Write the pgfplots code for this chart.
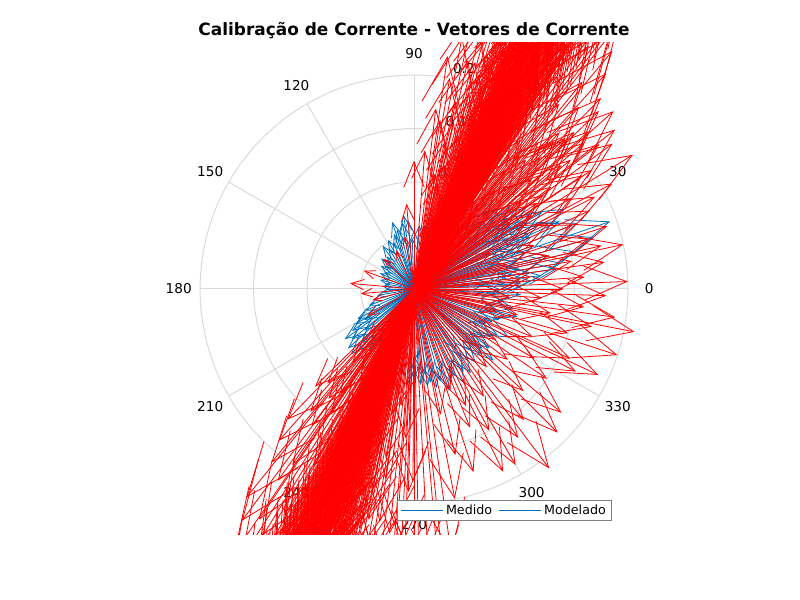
\documentclass[border=0pt]{standalone}
\usepackage{fontspec}
\setmainfont{DejaVu Sans}
\usepackage{pgfplots}
\pgfplotsset{compat=1.18}
\usepackage{pgfplotstable}
\usetikzlibrary{arrows.meta}
\definecolor{mred}{RGB}{255,0,0}
\definecolor{mblue}{RGB}{0,114,189}
\definecolor{mgrid}{RGB}{218,218,218}

% Medido (blue): angle in degrees, magnitude
\pgfplotstableread[row sep=\\]{
t r\\
0 0.08\\ 3 0.10\\ 5 0.07\\ 8 0.11\\ 10 0.09\\ 12 0.12\\ 15 0.10\\ 17 0.08\\ 20 0.12\\ 22 0.10\\
25 0.11\\ 27 0.13\\ 30 0.09\\ 32 0.12\\ 35 0.10\\ 37 0.11\\ 40 0.08\\ 42 0.10\\ 45 0.09\\ 48 0.11\\
50 0.08\\ 53 0.10\\ 55 0.07\\ 58 0.09\\ 60 0.08\\ 63 0.07\\ 66 0.09\\ 70 0.06\\ 75 0.07\\ 80 0.06\\
6 0.12\\ 14 0.13\\ 24 0.12\\ 33 0.13\\ 2 0.09\\ 18 0.11\\ 28 0.10\\ 38 0.12\\ 44 0.11\\ 52 0.09\\
4 0.11\\ 11 0.10\\ 21 0.09\\ 26 0.12\\ 34 0.11\\ 41 0.12\\ 47 0.10\\ 56 0.10\\ 36 0.13\\ 30 0.12\\
19 0.194\\ 16 0.175\\ 22 0.165\\ 13 0.155\\ 25 0.15\\ 10 0.14\\ 28 0.16\\ 31 0.14\\ 8 0.135\\
85 0.06\\ 90 0.055\\ 95 0.065\\ 100 0.063\\ 103 0.05\\ 106 0.058\\ 110 0.055\\ 114 0.048\\ 118 0.052\\ 122 0.045\\
126 0.05\\ 130 0.04\\ 133 0.037\\ 137 0.042\\ 141 0.035\\ 145 0.038\\ 150 0.032\\ 155 0.035\\ 160 0.03\\ 165 0.033\\
170 0.028\\ 175 0.03\\ 180 0.027\\ 98 0.07\\ 108 0.066\\ 92 0.048\\
185 0.03\\ 190 0.035\\ 195 0.04\\ 200 0.045\\ 204 0.05\\ 208 0.06\\ 211 0.064\\ 214 0.07\\ 216 0.08\\ 219 0.075\\
222 0.083\\ 225 0.07\\ 228 0.078\\ 231 0.065\\ 234 0.072\\ 237 0.06\\ 240 0.068\\ 212 0.055\\ 220 0.06\\ 226 0.085\\
243 0.07\\ 247 0.075\\ 250 0.08\\ 254 0.07\\ 258 0.085\\ 262 0.08\\ 266 0.09\\ 270 0.085\\ 274 0.09\\ 278 0.092\\
280 0.089\\ 283 0.095\\ 286 0.09\\ 289 0.1\\ 292 0.095\\ 295 0.09\\ 298 0.1\\ 256 0.065\\ 268 0.075\\ 276 0.08\\
301 0.09\\ 304 0.095\\ 307 0.085\\ 310 0.09\\ 313 0.08\\ 316 0.088\\ 319 0.085\\ 322 0.09\\ 325 0.08\\ 328 0.085\\
331 0.09\\ 334 0.075\\ 337 0.08\\ 340 0.085\\ 343 0.09\\ 346 0.08\\ 349 0.095\\ 352 0.085\\ 355 0.09\\ 358 0.08\\
305 0.07\\ 318 0.1\\ 333 0.1\\ 345 0.1\\ 357 0.1\\
}\bluetab

% Modelado (red), north-east band: angle in degrees, magnitude
\pgfplotstableread[row sep=\\]{
t r\\
63.3 0.26\\ 65.8 0.31\\ 60.1 0.22\\ 67.6 0.28\\ 63.9 0.34\\ 58.4 0.25\\ 70.2 0.29\\ 61.7 0.19\\ 64.5 0.37\\ 66.0 0.23\\
61.8 0.30\\ 64.1 0.27\\ 68.6 0.33\\ 57.9 0.29\\ 66.4 0.21\\ 62.2 0.35\\ 69.7 0.24\\ 59.5 0.32\\ 65.0 0.28\\ 62.3 0.36\\
67.1 0.20\\ 64.6 0.30\\ 60.9 0.27\\ 66.4 0.25\\ 71.2 0.31\\ 63.7 0.23\\ 56.5 0.33\\ 67.0 0.36\\ 61.3 0.24\\ 64.8 0.32\\
68.6 0.27\\ 62.9 0.29\\ 64.4 0.38\\ 58.2 0.30\\ 69.7 0.33\\ 65.5 0.28\\ 63.0 0.32\\ 60.3 0.35\\ 66.8 0.30\\ 72.1 0.26\\
63.9 0.25\\ 61.4 0.34\\ 65.2 0.22\\ 67.7 0.34\\ 59.5 0.26\\ 62.6 0.28\\ 66.1 0.37\\ 61.9 0.31\\ 70.3 0.35\\ 57.6 0.34\\
65.4 0.35\\ 60.7 0.29\\ 66.6 0.27\\ 64.3 0.32\\ 62.8 0.26\\ 68.9 0.30\\ 65.8 0.33\\ 58.9 0.36\\ 63.5 0.37\\ 69.6 0.29\\
61.1 0.32\\ 64.7 0.30\\ 67.9 0.25\\ 63.6 0.29\\ 59.0 0.35\\ 66.9 0.26\\ 62.5 0.34\\ 71.8 0.27\\ 63.1 0.25\\ 66.3 0.33\\
60.5 0.31\\ 64.9 0.36\\ 65.2 0.30\\ 61.5 0.27\\ 68.2 0.36\\ 64.0 0.27\\ 62.7 0.33\\ 57.3 0.31\\ 67.4 0.32\\ 62.0 0.28\\
73.6 0.30\\ 55.2 0.30\\ 74.4 0.27\\ 56.8 0.36\\ 72.9 0.34\\ 58.6 0.33\\ 70.7 0.31\\ 59.9 0.33\\ 69.3 0.37\\ 59.1 0.29\\
64.2 0.23\\ 66.7 0.24\\ 62.4 0.22\\ 65.6 0.20\\ 63.8 0.20\\ 67.3 0.21\\ 61.6 0.20\\ 68.0 0.22\\ 60.6 0.21\\ 69.1 0.19\\
64.4 0.17\\ 65.1 0.15\\ 63.2 0.18\\ 66.5 0.16\\ 62.1 0.15\\ 67.8 0.18\\ 61.0 0.17\\ 68.4 0.15\\ 64.7 0.13\\ 65.3 0.12\\
63.4 0.10\\ 65.9 0.11\\ 64.0 0.08\\ 62.6 0.12\\ 66.2 0.13\\ 65.7 0.09\\ 60.4 0.16\\ 70.0 0.17\\ 58.8 0.18\\ 71.4 0.20\\
65.7 0.34\\ 63.5 0.31\\ 64.8 0.27\\ 66.2 0.35\\ 61.9 0.33\\ 67.5 0.28\\ 60.8 0.36\\ 68.3 0.30\\ 64.1 0.33\\ 65.9 0.24\\
62.7 0.36\\ 66.0 0.29\\ 59.7 0.37\\ 68.8 0.33\\ 57.7 0.27\\ 71.5 0.33\\ 62.5 0.30\\ 67.2 0.34\\ 65.6 0.36\\ 60.2 0.33\\
75.5 0.25\\ 54.3 0.28\\ 76.7 0.22\\ 53.6 0.33\\ 77.8 0.27\\ 52.4 0.30\\ 73.1 0.21\\ 56.9 0.22\\ 72.6 0.23\\ 56.1 0.24\\
64.6 0.31\\ 63.1 0.33\\ 65.4 0.31\\ 61.2 0.35\\ 66.8 0.32\\ 63.6 0.28\\ 68.5 0.37\\ 60.0 0.34\\ 70.9 0.32\\ 59.3 0.37\\
62.9 0.24\\ 64.3 0.26\\ 66.1 0.22\\ 63.0 0.29\\ 65.2 0.25\\ 61.4 0.23\\ 67.6 0.27\\ 60.6 0.26\\ 69.2 0.24\\ 58.1 0.27\\
64.9 0.21\\ 63.7 0.22\\ 65.5 0.27\\ 62.2 0.25\\ 66.9 0.29\\ 61.7 0.29\\ 68.1 0.26\\ 59.4 0.24\\ 70.5 0.22\\ 57.4 0.26\\
63.2 0.14\\ 64.5 0.16\\ 62.8 0.13\\ 66.4 0.14\\ 61.3 0.12\\ 67.1 0.16\\ 65.0 0.11\\ 63.9 0.12\\ 60.9 0.14\\ 68.7 0.13\\
65.3 0.19\\ 62.0 0.18\\ 66.6 0.17\\ 63.4 0.21\\ 64.8 0.19\\ 61.8 0.21\\ 67.9 0.19\\ 60.3 0.19\\ 69.4 0.16\\ 58.5 0.20\\
48.3 0.27\\ 45.6 0.25\\ 50.2 0.29\\ 41.7 0.25\\ 51.9 0.22\\ 80.4 0.20\\ 83.1 0.17\\ 79.2 0.24\\ 85.5 0.13\\ 78.3 0.14\\
47.1 0.20\\ 53.0 0.31\\ 44.4 0.21\\ 81.8 0.22\\
52.5 0.14\\ 54.8 0.17\\ 50.6 0.12\\ 56.3 0.19\\ 49.1 0.16\\ 73.7 0.15\\ 75.9 0.12\\ 77.4 0.18\\ 74.2 0.19\\ 79.6 0.11\\
55.7 0.10\\ 72.8 0.09\\ 51.3 0.20\\ 76.5 0.16\\ 48.2 0.13\\ 71.6 0.14\\ 57.2 0.13\\ 78.1 0.10\\ 53.4 0.09\\ 74.9 0.22\\
46.0 0.17\\ 43.2 0.15\\ 39.5 0.19\\ 36.7 0.16\\ 47.8 0.23\\ 42.1 0.22\\ 38.4 0.24\\ 50.9 0.25\\ 45.0 0.20\\ 81.2 0.16\\
31.5 0.24\\ 33.8 0.20\\ 36.2 0.23\\ 40.7 0.21\\ 43.9 0.24\\ 46.5 0.19\\ 49.7 0.18\\ 34.9 0.14\\ 39.1 0.13\\ 52.0 0.16\\
}\redNE

% Modelado (red), south-west band
\pgfplotstableread[row sep=\\]{
t r\\
247.6 0.27\\ 250.8 0.31\\ 245.3 0.24\\ 252.7 0.29\\ 248.9 0.35\\ 243.1 0.26\\ 255.4 0.30\\ 246.5 0.21\\ 249.8 0.37\\ 251.2 0.23\\
246.3 0.30\\ 248.4 0.28\\ 253.9 0.33\\ 242.6 0.29\\ 250.5 0.22\\ 247.7 0.35\\ 254.2 0.25\\ 244.8 0.32\\ 249.1 0.28\\ 247.0 0.36\\
252.4 0.21\\ 248.6 0.31\\ 245.9 0.27\\ 250.3 0.26\\ 256.7 0.31\\ 247.2 0.24\\ 241.5 0.33\\ 251.8 0.36\\ 246.1 0.25\\ 249.6 0.32\\
253.5 0.28\\ 246.9 0.29\\ 248.2 0.38\\ 243.8 0.30\\ 254.6 0.33\\ 250.9 0.28\\ 247.4 0.32\\ 244.7 0.35\\ 251.6 0.30\\ 257.3 0.27\\
248.7 0.25\\ 245.5 0.34\\ 249.9 0.23\\ 252.1 0.34\\ 244.2 0.27\\ 247.9 0.28\\ 250.6 0.37\\ 246.8 0.31\\ 255.9 0.35\\ 242.3 0.34\\
249.4 0.35\\ 245.0 0.29\\ 251.5 0.27\\ 248.1 0.32\\ 246.6 0.26\\ 253.3 0.30\\ 250.2 0.33\\ 243.4 0.36\\ 247.5 0.37\\ 254.8 0.29\\
245.8 0.32\\ 249.3 0.30\\ 252.9 0.25\\ 248.8 0.29\\ 244.1 0.35\\ 250.7 0.26\\ 246.4 0.34\\ 256.2 0.27\\ 247.3 0.25\\ 251.9 0.33\\
244.9 0.31\\ 248.5 0.36\\ 250.1 0.30\\ 245.7 0.27\\ 253.7 0.36\\ 249.5 0.27\\ 247.8 0.33\\ 242.0 0.31\\ 252.6 0.32\\ 246.2 0.28\\
258.4 0.30\\ 240.6 0.30\\ 259.7 0.27\\ 241.2 0.36\\ 257.6 0.34\\ 243.5 0.33\\ 255.1 0.31\\ 244.4 0.33\\ 254.0 0.37\\ 243.9 0.29\\
248.3 0.23\\ 250.4 0.24\\ 246.7 0.22\\ 249.2 0.20\\ 247.1 0.20\\ 251.3 0.21\\ 245.6 0.20\\ 252.8 0.22\\ 244.6 0.21\\ 253.1 0.19\\
248.0 0.17\\ 249.7 0.15\\ 247.6 0.18\\ 250.9 0.16\\ 246.0 0.15\\ 251.4 0.18\\ 245.2 0.17\\ 252.3 0.15\\ 248.6 0.13\\ 249.0 0.12\\
247.9 0.10\\ 250.6 0.11\\ 248.4 0.08\\ 246.3 0.12\\ 251.7 0.13\\ 249.4 0.09\\ 244.5 0.16\\ 254.3 0.17\\ 243.7 0.18\\ 255.6 0.20\\
249.6 0.34\\ 247.4 0.31\\ 248.7 0.27\\ 250.0 0.35\\ 246.5 0.33\\ 251.1 0.28\\ 245.4 0.36\\ 252.5 0.30\\ 248.2 0.33\\ 249.8 0.24\\
247.1 0.36\\ 250.3 0.29\\ 244.3 0.37\\ 253.2 0.33\\ 242.8 0.27\\ 256.5 0.33\\ 246.9 0.30\\ 251.0 0.34\\ 249.3 0.36\\ 245.1 0.33\\
260.8 0.25\\ 239.3 0.28\\ 261.6 0.22\\ 238.5 0.33\\ 262.9 0.27\\ 237.4 0.30\\ 258.2 0.21\\ 241.9 0.22\\ 257.1 0.23\\ 240.2 0.24\\
248.9 0.31\\ 247.3 0.33\\ 249.9 0.31\\ 246.4 0.35\\ 250.8 0.32\\ 248.5 0.28\\ 252.2 0.37\\ 244.0 0.34\\ 254.5 0.32\\ 243.2 0.37\\
247.2 0.24\\ 249.0 0.26\\ 250.5 0.22\\ 246.8 0.29\\ 248.3 0.25\\ 245.3 0.23\\ 251.7 0.27\\ 244.6 0.26\\ 253.4 0.24\\ 242.5 0.27\\
249.5 0.21\\ 248.1 0.22\\ 250.7 0.27\\ 246.2 0.25\\ 251.6 0.29\\ 245.9 0.29\\ 252.7 0.26\\ 243.6 0.24\\ 254.9 0.22\\ 241.8 0.26\\
247.5 0.14\\ 248.9 0.16\\ 246.6 0.13\\ 250.2 0.14\\ 245.4 0.12\\ 251.1 0.16\\ 249.3 0.11\\ 248.0 0.12\\ 244.9 0.14\\ 252.6 0.13\\
249.7 0.19\\ 246.1 0.18\\ 250.8 0.17\\ 247.8 0.21\\ 248.6 0.19\\ 245.7 0.21\\ 251.9 0.19\\ 244.3 0.19\\ 253.6 0.16\\ 242.7 0.20\\
233.4 0.27\\ 234.6 0.22\\ 231.2 0.25\\ 235.8 0.30\\ 264.3 0.23\\ 236.1 0.26\\ 265.5 0.29\\
236.4 0.14\\ 238.9 0.17\\ 234.7 0.12\\ 240.5 0.19\\ 233.2 0.16\\ 257.7 0.15\\ 259.9 0.12\\ 261.4 0.18\\ 258.3 0.19\\ 263.6 0.11\\
239.6 0.10\\ 256.8 0.09\\ 235.3 0.20\\ 260.5 0.16\\ 232.1 0.13\\ 255.6 0.14\\ 241.2 0.13\\ 262.1 0.10\\ 237.4 0.09\\ 258.9 0.22\\
229.8 0.15\\ 227.5 0.12\\ 225.9 0.17\\ 266.8 0.14\\ 268.4 0.19\\ 230.6 0.21\\ 267.2 0.24\\ 228.3 0.19\\ 224.6 0.13\\ 269.7 0.18\\
}\redSW

% Modelado (red), other directions
\pgfplotstableread[row sep=\\]{
t r\\
268 0.30\\ 271 0.27\\ 273 0.32\\ 275 0.28\\ 270 0.26\\ 276 0.30\\ 266 0.28\\ 278 0.25\\
284 0.16\\ 288 0.18\\ 292 0.14\\ 296 0.19\\ 300 0.19\\ 303 0.12\\ 307 0.21\\ 310 0.16\\ 313 0.10\\ 317 0.14\\
320 0.18\\ 323 0.11\\ 326 0.15\\ 330 0.13\\ 333 0.17\\ 335 0.19\\ 338 0.12\\ 282 0.12\\ 290 0.10\\ 298 0.15\\
305 0.17\\ 315 0.19\\ 328 0.09\\ 336 0.16\\ 281 0.20\\ 294 0.12\\ 318 0.08\\
342 0.20\\ 344 0.15\\ 346 0.10\\ 348 0.17\\ 350 0.13\\ 352 0.19\\ 354 0.16\\ 356 0.12\\ 358 0.18\\ 0 0.14\\
2 0.20\\ 4 0.16\\ 6 0.11\\ 8 0.18\\ 10 0.15\\ 12 0.20\\ 14 0.13\\ 16 0.17\\ 18 0.19\\ 20 0.12\\
22 0.16\\ 24 0.18\\ 26 0.14\\ 28 0.21\\ 30 0.17\\ 32 0.13\\ 34 0.19\\ 36 0.15\\ 38 0.22\\ 40 0.18\\
42 0.16\\ 44 0.20\\ 345 0.08\\ 355 0.09\\ 5 0.10\\ 15 0.09\\ 25 0.08\\ 35 0.11\\ 349 0.21\\ 13 0.18\\
27 0.19\\
100 0.05\\ 115 0.04\\ 135 0.04\\ 160 0.05\\ 175 0.06\\ 185 0.05\\ 195 0.04\\ 210 0.05\\ 225 0.06\\ 90 0.12\\
95 0.08\\ 230 0.09\\
}\redOther

\pgfplotsset{
  compass/.style={
    forget plot,
    line width=0.6pt,
    point meta=\thisrow{r},
    quiver={
      u={\thisrow{r}*cos(\thisrow{t})},
      v={\thisrow{r}*sin(\thisrow{t})},
      every arrow/.append style={
        /utils/exec={%
          \pgfmathsetmacro\aL{0.16044*\pgfplotspointmetatransformed}%
          \pgfmathsetmacro\aW{0.12835*\pgfplotspointmetatransformed}%
        },
        -{Straight Barb[length=\aL pt, width=\aW pt]}
      },
    },
  },
}
\tikzset{
  glab/.style={font=\fontsize{10.2}{12}\selectfont, inner sep=0pt},
  rlab/.style={font=\fontsize{10.2}{12}\selectfont, inner sep=0pt, anchor=base west, xshift=6.5pt, yshift=1.1pt},
  gline/.style={mgrid, line width=0.75pt},
}

\begin{document}
\begin{tikzpicture}
\useasboundingbox (0,0) rectangle (600pt,450pt);
\begin{axis}[
  at={(78pt,48.75pt)}, anchor=south west,
  scale only axis, width=465pt, height=369pt,
  xmin=-0.28984, xmax=0.28984, ymin=-0.23, ymax=0.23,
  axis lines=none, xtick=\empty, ytick=\empty,
  clip mode=individual,
  point meta min=0, point meta max=1,
  legend columns=2,
  legend style={at={(0.646,0.0498)}, anchor=center, draw=black!50, line width=0.75pt,
    fill=white, font=\fontsize{9.5}{11}\selectfont,
    inner xsep=2pt, inner ysep=1pt,
    /tikz/every even column/.append style={column sep=3pt}},
  legend image code/.code={\draw[#1] (0pt,0pt) -- (31.5pt,0pt);},
]
% polar grid
\draw[gline] (axis cs:0,0) circle[radius=0.05];
\draw[gline] (axis cs:0,0) circle[radius=0.1];
\draw[gline] (axis cs:0,0) circle[radius=0.15];
\draw[gline] (axis cs:0,0) circle[radius=0.2];
\draw[gline] (axis cs:-0.2,0) -- (axis cs:0.2,0);
\draw[gline] (axis cs:-0.17321,-0.1) -- (axis cs:0.17321,0.1);
\draw[gline] (axis cs:-0.1,-0.17321) -- (axis cs:0.1,0.17321);
\draw[gline] (axis cs:0,-0.2) -- (axis cs:0,0.2);
\draw[gline] (axis cs:0.1,-0.17321) -- (axis cs:-0.1,0.17321);
\draw[gline] (axis cs:0.17321,-0.1) -- (axis cs:-0.17321,0.1);
\node[glab] at (axis cs:0.22,0) {0};
\node[glab] at (axis cs:0.19053,0.11) {30};
\node[glab] at (axis cs:0.11,0.19053) {60};
\node[glab] at (axis cs:0,0.22) {90};
\node[glab] at (axis cs:-0.11,0.19053) {120};
\node[glab] at (axis cs:-0.19053,0.11) {150};
\node[glab] at (axis cs:-0.22,0) {180};
\node[glab] at (axis cs:-0.19053,-0.11) {210};
\node[glab] at (axis cs:-0.11,-0.19053) {240};
\node[glab] at (axis cs:0,-0.22) {270};
\node[glab] at (axis cs:0.11,-0.19053) {300};
\node[glab] at (axis cs:0.19053,-0.11) {330};
\node[rlab] at (axis cs:0.00731,0.05199) {0.05};
\node[rlab] at (axis cs:0.01427,0.10150) {0.1};
\node[rlab] at (axis cs:0.02122,0.15102) {0.15};
\node[rlab] at (axis cs:0.02818,0.20053) {0.2};
\node[font=\bfseries\fontsize{12.7}{15}\selectfont, anchor=base, yshift=5.25pt]
  at (axis description cs:0.5,1) {Calibração de Corrente - Vetores de Corrente};

\addplot[compass, color=mblue] table[x expr=0, y expr=0] {\bluetab};
\addplot[compass, color=mred] table[x expr=0, y expr=0] {\redOther};
\addplot[compass, color=mred] table[x expr=0, y expr=0] {\redSW};
\addplot[compass, color=mred] table[x expr=0, y expr=0] {\redNE};

\addlegendimage{color=mblue, line width=0.6pt}
\addlegendentry{Medido}
\addlegendimage{color=mblue, line width=0.6pt}
\addlegendentry{Modelado}
\end{axis}
\end{tikzpicture}
\end{document}
